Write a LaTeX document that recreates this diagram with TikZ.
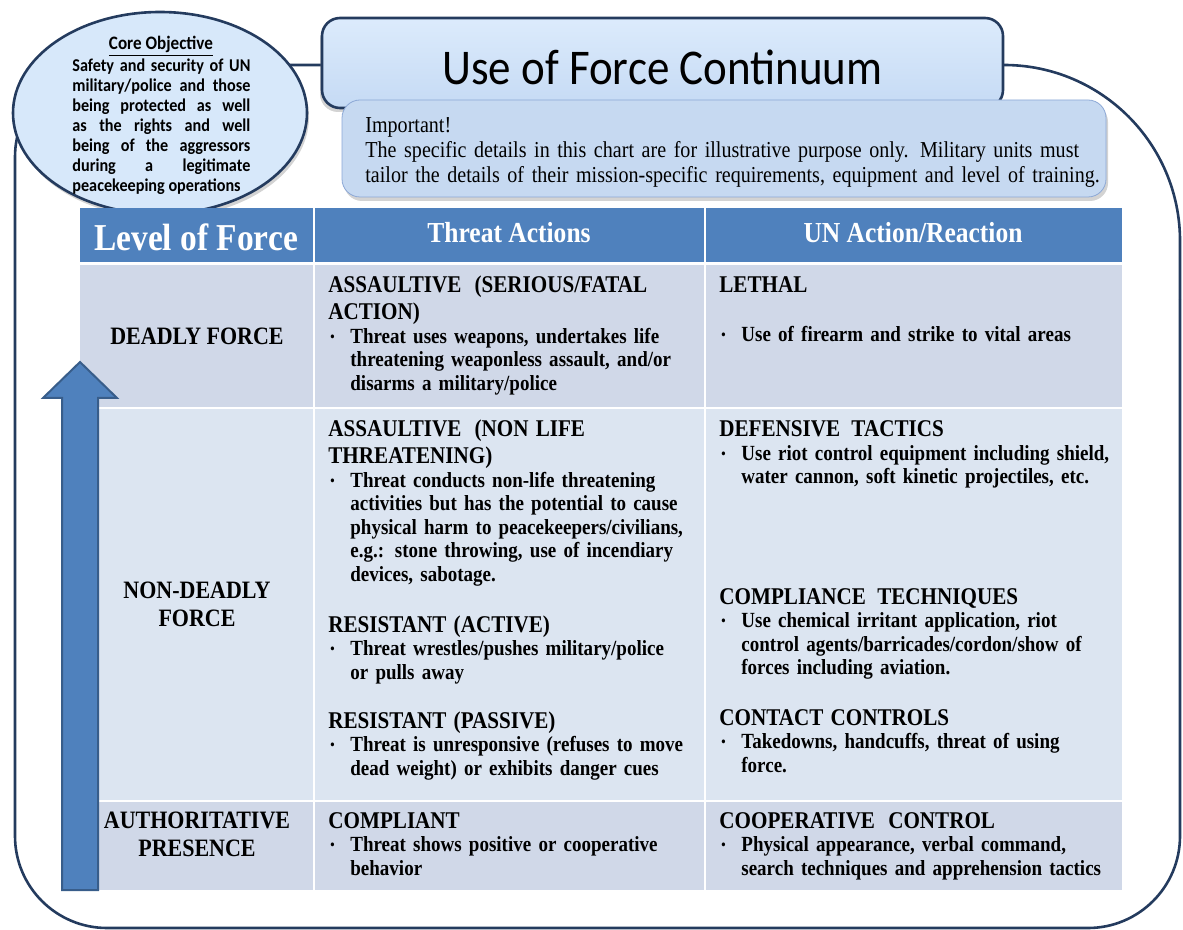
\documentclass[tikz,border=0pt]{standalone}
\usepackage{fontspec}
\setmainfont[FakeStretch=0.88]{Liberation Serif}
\newfontfamily\calibri[FakeStretch=0.9]{Carlito}
\usepackage{tikz}
\usetikzlibrary{calc}
\usetikzlibrary{positioning}
\usetikzlibrary{shadows}
\usetikzlibrary{shapes.geometric}

\definecolor{hdrblue}{HTML}{4F81BD}
\definecolor{rowdark}{HTML}{D0D8E8}
\definecolor{rowlight}{HTML}{DCE5F1}
\definecolor{navy}{HTML}{243B5E}
\definecolor{paletop}{HTML}{DCEBFC}
\definecolor{palebot}{HTML}{C5DAF4}
\definecolor{noteblue}{HTML}{C6D9F1}
\definecolor{noteedge}{HTML}{8CA8D6}
\definecolor{arrowedge}{HTML}{385D8A}

\newcommand{\hd}[1]{{\fontsize{12}{13.5}\selectfont #1\par}}
\newcommand{\bul}[1]{\par\noindent\makebox[11pt][l]{\hspace{1pt}\raisebox{1pt}{\fontsize{7}{8}\selectfont\textbullet}}%
    \begin{tabular}[t]{@{}l@{}}#1\end{tabular}\par}

\begin{document}
\begin{tikzpicture}[x=0.5pt, y=-0.5pt,
    frame/.style={draw=navy, line width=1.3pt},
    head/.style={text=white, font=\bfseries\fontsize{14.5}{18}\selectfont},
    lvl/.style={align=center, font=\bfseries\fontsize{12.5}{14}\selectfont},
    txt/.style={anchor=base west, inner sep=0pt, text width=215pt, align=left,
                font=\bfseries\fontsize{10.8}{11.75}\selectfont}]
    \useasboundingbox (0,0) rectangle (1183,930);

    \draw[frame, rounded corners=46pt] (1180,300) -- (1180,928) -- (15,928) -- (15,65) -- (600,65);
    \draw[frame, rounded corners=88pt] (600,65) -- (1180,65) -- (1180,300);

    \node[ellipse, draw=navy, line width=1.3pt, fill=paletop!80!palebot,
          minimum width=147pt, minimum height=101pt,
          drop shadow={shadow xshift=1pt, shadow yshift=-2pt, opacity=0.35}] (core) at (160,113) {};
    \node[inner sep=0pt, font=\calibri\bfseries\fontsize{9.5}{11}\selectfont] (coretitle) at (161,46)
        {\underline{Core Objective}};
    \node[anchor=base west, inner sep=0pt, text width=89pt, align=justify,
          font=\calibri\bfseries\fontsize{9}{10}\selectfont] (coretext) at (72,72)
        {Safety and security of UN\linebreak military/police and those\linebreak
         being protected as well\linebreak as the rights and well\linebreak being of the aggressors\linebreak
         during a legitimate\linebreak peacekeeping operations};

    \node[draw=navy, line width=1.3pt, rounded corners=9pt, top color=paletop, bottom color=palebot,
          minimum width=340.5pt, minimum height=45pt,
          drop shadow={shadow xshift=-1pt, shadow yshift=-2pt, opacity=0.35}] (title) at (662.5,63) {};
    \node[font=\calibri\fontsize{25}{28}\selectfont] (titletext) at (662.5,67) {Use of Force Continuum};

    \node[draw=noteedge, fill=noteblue, rounded corners=9pt,
          minimum width=382pt, minimum height=48.5pt,
          drop shadow={shadow xshift=1pt, shadow yshift=-2pt, opacity=0.35}] (note) at (724,148.5) {};
    \node[anchor=base west, inner sep=0pt, text width=370pt, align=left, font=\fontsize{11.4}{12.5}\selectfont] (notetext) at (365,133)
        {Important!\\
         The specific details in this chart are for illustrative\ purpose only. Military units must\\
         tailor\ the details of their mission-specific requirements, equipment\ and level of training.};

    \fill[hdrblue] (80,208) rectangle (1122,262);
    \foreach \xa in {313,704}
        \fill[white] (\xa,208) rectangle (\xa+2,262);
    \foreach \ya/\yb/\shade in {265/407/rowdark, 409/800/rowlight, 802/890/rowdark}
    {
        \foreach \xa/\xb in {80/313, 315/704, 706/1122}
            \fill[\shade] (\xa,\ya) rectangle (\xb,\yb);
    }

    \node[head, font=\bfseries\fontsize{19}{24}\selectfont] (hlevel) at (196,237) {Level of Force};
    \node[head] (hthreat) at (509,233) {Threat Actions};
    \node[head] (hreact) at (913,233) {UN Action/Reaction};

    \node[lvl] (lvdeadly) at (197,336) {DEADLY FORCE};
    \node[lvl] (lvnon) at (197,604) {NON-DEADLY\\FORCE};
    \node[lvl] (lvauth) at (197,834) {AUTHORITATIVE\\PRESENCE};

    \node[txt] (thrfatal) at (328,293) {\hd{ASSAULTIVE\hspace{3pt} (SERIOUS/FATAL\newline ACTION)}%
        \bul{Threat uses weapons, undertakes life\\ threatening weaponless assault, and/or\\ disarms a military/police}};
    \node[txt] (thrnonlife) at (328,437) {\hd{ASSAULTIVE\hspace{3pt} (NON LIFE\newline THREATENING)}%
        \bul{Threat conducts non-life threatening\\ activities but has the potential to cause\\
        physical harm to peacekeepers/civilians,\\ e.g.: stone throwing, use of incendiary\\ devices, sabotage.}};
    \node[txt] (thractive) at (328,632) {\hd{RESISTANT (ACTIVE)}%
        \bul{Threat wrestles/pushes military/police\\ or pulls away}};
    \node[txt] (thrpassive) at (328,728) {\hd{RESISTANT (PASSIVE)}%
        \bul{Threat is unresponsive (refuses to move\\ dead weight) or exhibits danger cues}};
    \node[txt] (thrcomply) at (328,828) {\hd{COMPLIANT}%
        \bul{Threat shows positive or cooperative\\ behavior}};

    \node[txt] (reklethal) at (719,293) {\hd{LETHAL}\vspace{12.5pt}%
        \bul{Use of firearm and strike to vital areas}};
    \node[txt] (rekdefense) at (719,437) {\hd{DEFENSIVE\hspace{2pt} TACTICS}%
        \bul{Use riot control equipment including shield,\\ water cannon, soft kinetic projectiles, etc.}};
    \node[txt] (rekcomply) at (719,604) {\hd{COMPLIANCE\hspace{2pt} TECHNIQUES}%
        \bul{Use chemical irritant application, riot\\ control agents/barricades/cordon/show of\\ forces including aviation.}};
    \node[txt] (rekcontact) at (719,725) {\hd{CONTACT CONTROLS}%
        \bul{Takedowns, handcuffs, threat of using\\ force.}};
    \node[txt] (rekcoop) at (719,828) {\hd{COOPERATIVE\hspace{3pt} CONTROL}%
        \bul{Physical appearance, verbal command,\\ search techniques and apprehension tactics}};

    \draw[fill=hdrblue, draw=arrowedge, line width=1pt] (62,890) -- (62,398) -- (43,398) -- (80,362)
        -- (117,398) -- (98,398) -- (98,890) -- cycle;
\end{tikzpicture}
\end{document}
